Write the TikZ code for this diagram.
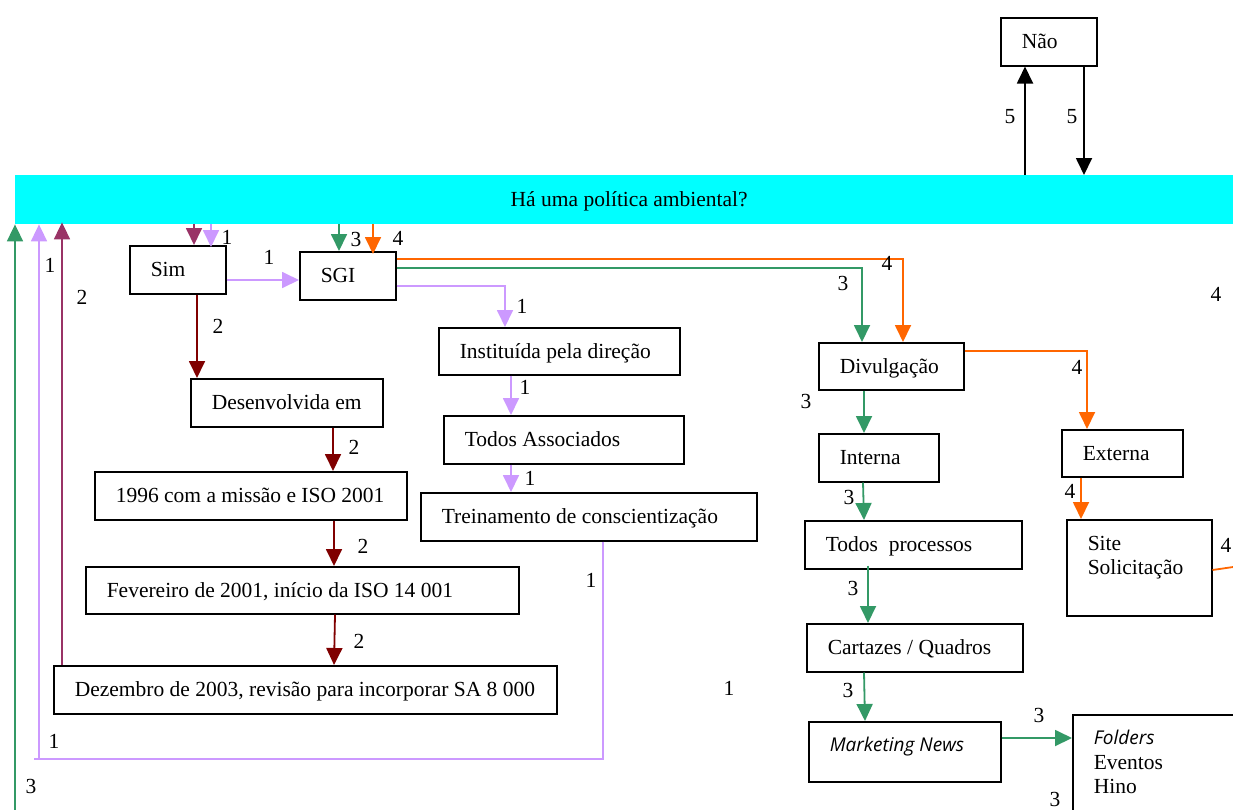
\documentclass[tikz,border=0pt]{standalone}
\usepackage{fontspec}
\setmainfont{Liberation Serif}
\newfontfamily\mksans{Open Sans}
\usetikzlibrary{arrows.meta}
\definecolor{bandcyan}{HTML}{00FFFF}
\definecolor{lav}{HTML}{CC99FF}
\definecolor{plum}{HTML}{993366}
\definecolor{dred}{HTML}{800000}
\definecolor{grn}{HTML}{339966}
\definecolor{org}{HTML}{FF6600}
% fixed-width, left-aligned box text (width given in pt, padding excluded)
\newcommand\bxt[2]{\makebox[\dimexpr#1pt-42pt\relax][l]{#2}}
\begin{document}
\begin{tikzpicture}[x=1pt,y=-1pt,
  font=\fontsize{21.5}{23.5}\selectfont,
  box/.style={draw, line width=1.5pt, anchor=north west, inner xsep=21pt, inner ysep=0pt, text height=14pt, text depth=0pt},
  tall/.style={draw, line width=1.5pt, anchor=north west, inner xsep=21pt, inner ysep=0pt},
  num/.style={inner sep=0pt},
  link/.style={line width=1.8pt, -{Triangle[length=17pt,width=16pt]}},
  plain/.style={line width=1.8pt},
]
\clip (0,0) rectangle (1233,809);

% question band
\node[fill=bandcyan, anchor=north west, minimum width=1228pt, minimum height=49pt, inner sep=0pt, text height=14pt, text depth=0pt] (band) at (15,175) {Há uma política ambiental?};

% boxes
\node[box, minimum height=48pt] (nao) at (1000,17) {\bxt{96}{Não}};
\node[box, minimum height=48pt] (sim) at (129,245) {\bxt{96}{Sim}};
\node[box, minimum height=48pt] (sgi) at (299,251) {\bxt{96}{SGI}};
\node[box, minimum height=47pt] (inst) at (438,327) {\bxt{241}{Instituída pela direção}};
\node[box, minimum height=48pt] (assoc) at (443,415) {\bxt{240}{Todos Associados}};
\node[box, minimum height=48pt] (trein) at (420,492) {\bxt{336}{Treinamento de conscientização}};
\node[box, minimum height=48pt] (des) at (190,378) {\bxt{192}{Desenvolvida em}};
\node[box, minimum height=48pt] (y96) at (94,471) {\bxt{312}{1996 com a missão e ISO 2001}};
\node[box, minimum height=47pt] (fev) at (85,566) {\bxt{433}{Fevereiro de 2001, início da ISO 14 001}};
\node[box, minimum height=48pt] (dez) at (53,665) {\bxt{503}{Dezembro de 2003, revisão para incorporar SA 8 000}};
\node[box, minimum height=47pt] (div) at (818,342) {\bxt{145}{Divulgação}};
\node[box, minimum height=48pt] (int) at (818,433) {\bxt{120}{Interna}};
\node[box, minimum height=48pt] (todos) at (804,520) {\bxt{217}{Todos\ \ processos}};
\node[box, minimum height=48pt] (cart) at (806,623) {\bxt{216}{Cartazes / Quadros}};
\node[box, minimum height=47pt] (ext) at (1061,429) {\bxt{121}{Externa}};
\node[tall] (mkt) at (808,721) {\parbox[c][60pt][t]{150pt}{\rule{0pt}{30pt}{\mksans\itshape\fontsize{19}{23}\selectfont Marketing News}}};
\node[tall] (site) at (1066,519) {\parbox[c][96pt][t]{103pt}{\rule{0pt}{31pt}Site\\Solicitação}};
\node[tall] (fold) at (1072,714) {\parbox[c][130pt][t]{158pt}{\fontsize{21.5}{24.5}\selectfont\rule{0pt}{30pt}{\mksans\itshape\fontsize{19}{23}\selectfont Folders}\\Eventos\\Hino}};

% named free ends
\coordinate (loopR) at (603,759);
\coordinate (loopL) at (39,759);
\coordinate (gbot) at (15,812);
\coordinate (offR) at (1240,566);

% black: Nao loop
\draw[link, black] (band.north -| 1025,0) -- (nao.south -| 1025,0);
\draw[link, black] (nao.south -| 1084,0) -- (band.north -| 1084,0);

% into Sim and SGI from the band
\draw[link, plum] (band.south -| 194,0) -- (sim.north -| 194,0);
\draw[link, lav] (band.south -| 211,0) -- ([yshift=-2pt]sim.north -| 211,0);
\draw[link, grn] (band.south -| 339,0) -- (sgi.north -| 339,0);
\draw[link, org] (band.south -| 373,0) -- ([yshift=-3pt]sgi.north -| 373,0);

% Sim -> SGI
\draw[link, lav] (sim.east |- 0,280) -- (sgi.west |- 0,280);

% SGI branches
\draw[link, org] (sgi.east |- 0,259) -| (div.north -| 903,0);
\draw[link, grn] (sgi.east |- 0,268) -| (div.north -| 862,0);
\draw[link, lav] (sgi.east |- 0,286) -| (inst.north -| 505,0);

% SGI chain (1)
\draw[link, lav] (inst.south -| 511,0) -- (assoc.north -| 511,0);
\draw[link, lav] (assoc.south -| 511,0) -- (trein.north -| 511,0);
\draw[link, lav] (trein.south -| loopR) -- (loopR) -- ([xshift=-5pt]loopL) (loopL) -- (band.south -| loopL);

% Sim chain (2)
\draw[link, dred] (sim.south -| 197,0) -- (des.north -| 197,0);
\draw[link, dred] (des.south -| 333,0) -- (y96.north -| 333,0);
\draw[link, dred] (y96.south -| 334,0) -- (fev.north -| 334,0);
\draw[link, dred] (fev.south -| 335,0) -- (dez.north -| 334,0);
\draw[link, plum] (dez.north -| 62,0) -- ([yshift=2pt]band.south -| 62,0);

% green return
\draw[link, grn] (gbot) -- (band.south -| gbot);

% Divulgacao chain (3)
\draw[link, grn] (div.south -| 864,0) -- (int.north -| 864,0);
\draw[link, grn] (int.south -| 863,0) -- (todos.north -| 864,0);
\draw[link, grn] ([yshift=4pt]todos.south -| 868,0) -- (cart.north -| 868,0);
\draw[link, grn] (cart.south -| 864,0) -- (mkt.north -| 865,0);
\draw[link, grn] (mkt.east |- 0,738) -- (fold.west |- 0,738);

% Externa branch (4)
\draw[link, org] (div.east |- 0,351) -| (ext.north -| 1087,0);
\draw[link, org] (ext.south -| 1081,0) -- (site.north -| 1081,0);
\draw[plain, org] (site.east |- 0,570) -- (offR);

% path numbers
\node[num] (n01) at (1010,117) {5};
\node[num] (n02) at (1072,117) {5};
\node[num] (n03) at (227,237) {1};
\node[num] (n04) at (356,239) {3};
\node[num] (n05) at (398,238) {4};
\node[num] (n06) at (269,257) {1};
\node[num] (n07) at (50,265) {1};
\node[num] (n08) at (82,297) {2};
\node[num] (n09) at (218,326) {2};
\node[num] (n10) at (887,263) {4};
\node[num] (n11) at (843,283) {3};
\node[num] (n12) at (1216,294) {4};
\node[num] (n13) at (522,306) {1};
\node[num] (n14) at (1077,367) {4};
\node[num] (n15) at (525,387) {1};
\node[num] (n16) at (806,401) {3};
\node[num] (n17) at (354,447) {2};
\node[num] (n18) at (530,478) {1};
\node[num] (n19) at (1070,491) {4};
\node[num] (n20) at (849,497) {3};
\node[num] (n21) at (1226,545) {4};
\node[num] (n22) at (363,546) {2};
\node[num] (n23) at (591,580) {1};
\node[num] (n24) at (853,588) {3};
\node[num] (n25) at (359,641) {2};
\node[num] (n26) at (729,688) {1};
\node[num] (n27) at (848,690) {3};
\node[num] (n28) at (1039,715) {3};
\node[num] (n29) at (54,741) {1};
\node[num] (n30) at (31,786) {3};
\node[num] (n31) at (1055,799) {3};
\end{tikzpicture}
\end{document}
